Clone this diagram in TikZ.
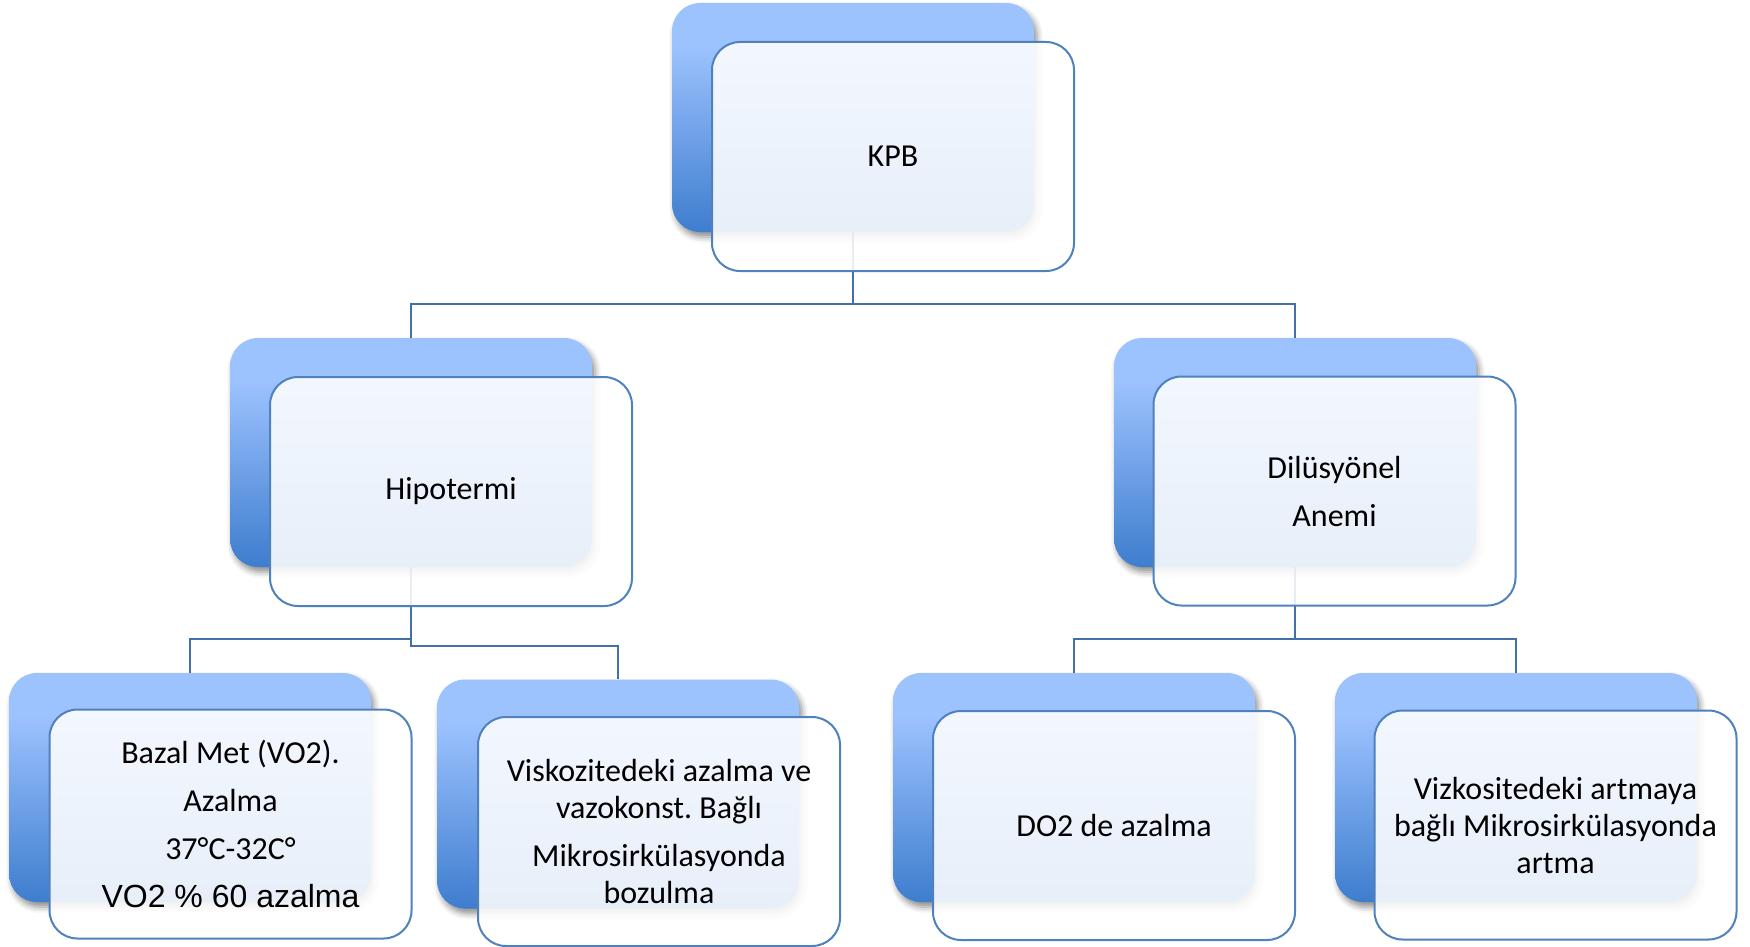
\documentclass[tikz,border=0pt]{standalone}
\usepackage{fontspec}
\setmainfont{Carlito}
\newfontfamily\arialfont{Liberation Sans}
\usetikzlibrary{shadows.blur}
\frenchspacing

\definecolor{boxlight}{RGB}{157,195,255}
\definecolor{boxdark}{RGB}{62,125,206}
\definecolor{frameblue}{RGB}{79,129,189}
\definecolor{linkblue}{RGB}{68,112,170}

% light at the top, darkening towards the bottom
\pgfdeclareverticalshading{backshade}{100bp}{%
  color(0bp)=(boxdark); color(25bp)=(boxdark);
  color(66bp)=(boxlight); color(100bp)=(boxlight)}

\pgfdeclarelayer{bg}
\pgfsetlayers{bg,main}

\tikzset{
  backbox/.style={rectangle, rounded corners=28pt, minimum width=362pt,
    minimum height=229pt, inner sep=0pt, shade, shading=backshade,
    blur shadow={shadow xshift=3pt, shadow yshift=-5pt,
      shadow blur radius=6pt, shadow opacity=45}},
  frontbox/.style={rectangle, rounded corners=28pt, minimum width=362pt,
    minimum height=229pt, inner sep=0pt, draw=frameblue, line width=2pt,
    fill=white, fill opacity=0.88, text opacity=1, align=center,
    font=\fontsize{32}{37}\selectfont},
  link/.style={draw=linkblue, line width=2.5pt}
}

\begin{document}
\begin{tikzpicture}[x=1pt, y=-1pt]
\useasboundingbox (0,0) rectangle (1750,947);

% back panels
\node[backbox] (kpbB) at (853,117.5) {};
\node[backbox] (hipB) at (411,452.5) {};
\node[backbox] (dilB) at (1295,452.5) {};
\node[backbox] (bazB) at (190,787.5) {};
\node[backbox] (visB) at (618,794) {};
\node[backbox] (do2B) at (1074,787.5) {};
\node[backbox] (vizB) at (1516,787.5) {};

% front panels with the labels
\node[frontbox] (kpb) at (893,156.5) {KPB};
\node[frontbox] (hip) at (451,491.5) {Hipotermi};
\node[frontbox] (dil) at (1334.5,491) {Dilüsyönel\\[11pt]Anemi};
\node[frontbox] (baz) at (230.5,824) {Bazal Met (VO2).\\[11pt]Azalma\\[11pt]37°C-32C°\\[11pt]{\arialfont\fontsize{32}{37}\selectfont VO2 \% 60 azalma}};
\node[frontbox] (vis) at (659,831.5) {Viskozitedeki azalma ve\\vazokonst. Bağlı\\[11pt]Mikrosirkülasyonda\\bozulma};
\node[frontbox] (do2) at (1114,825.5) {DO2 de azalma};
\node[frontbox] (viz) at (1555.5,825) {Vizkositedeki artmaya\\bağlı Mikrosirkülasyonda\\artma};

% connectors, kept behind the panels
\coordinate (busTop) at (853,304);
\coordinate (busL) at (411,639);
\coordinate (busL2) at (411,646);
\coordinate (busR) at (1295,639);
\begin{pgfonlayer}{bg}
  \draw[link] (kpbB.south) -- (busTop);
  \draw[link] (hipB.north) |- (busTop) -| (dilB.north);
  \draw[link] (hipB.south) -- (busL2) -| (visB.north);
  \draw[link] (busL) -| (bazB.north);
  \draw[link] (dilB.south) -- (busR);
  \draw[link] (do2B.north) |- (busR) -| (vizB.north);
\end{pgfonlayer}
\end{tikzpicture}
\end{document}
